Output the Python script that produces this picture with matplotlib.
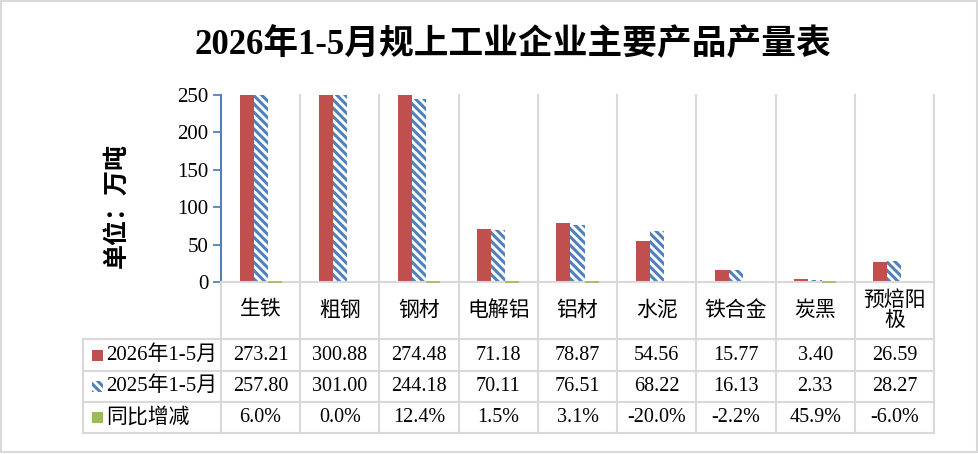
import matplotlib
matplotlib.use('Agg')
import matplotlib.pyplot as plt
import numpy as np
from matplotlib.patches import Rectangle
from matplotlib.transforms import blended_transform_factory

categories = ['生铁', '粗钢', '钢材', '电解铝', '铝材', '水泥', '铁合金', '炭黑', '预焙阳\n极']
output_2026 = [273.21, 300.88, 274.48, 71.18, 78.87, 54.56, 15.77, 3.40, 26.59]
output_2025 = [257.80, 301.00, 244.18, 70.11, 76.51, 68.22, 16.13, 2.33, 28.27]
yoy_change = [0.060, 0.000, 0.124, 0.015, 0.031, -0.200, -0.022, 0.459, -0.060]
series_names = ['2026年1-5月', '2025年1-5月', '同比增减']
y_ticks = [0, 50, 100, 150, 200, 250]

RED = '#C0504D'
BLUE = '#4F81BD'
GREEN = '#9BBB59'
GRID = '#D9D9D9'

plt.rcParams['font.family'] = ['Liberation Serif', 'Noto Sans CJK SC']
plt.rcParams['hatch.linewidth'] = 2.2

W, H = 979, 454


def fx(p):
    return p / W


def fy(p):
    return 1 - p / H


fig = plt.figure(figsize=(W / 100, H / 100), dpi=100)

# outer frame of the chart
fig.patches.append(Rectangle((fx(1), fy(452)), fx(976), (451) / H, transform=fig.transFigure,
                             fill=False, edgecolor=GRID, linewidth=1.5))

ax = fig.add_axes([fx(221), fy(282), (934 - 221) / W, (282 - 95) / H])
n = len(categories)
x = np.arange(n)
bw = 0.177

ax.bar(x - bw, output_2026, bw, color=RED, linewidth=0)
ax.bar(x, output_2025, bw, facecolor='white', edgecolor=BLUE, hatch='\\\\\\\\', linewidth=0)
# yoy values are fractions, so these bars are only a sliver on the 0-250 scale
green_bars = ax.bar(x + bw, yoy_change, bw, color=GREEN, edgecolor=GREEN,
                    linewidth=[1.2 if v > 0 else 0 for v in yoy_change], zorder=3)
for b in green_bars:
    b.set_clip_on(False)

ax.set_xlim(-0.5, n - 0.5)
ax.set_ylim(0, 250)
ax.set_yticks(y_ticks)
ax.set_xticks([])
ax.spines['top'].set_visible(False)
ax.spines['right'].set_visible(False)
ax.spines['left'].set_color(BLUE)
ax.spines['left'].set_linewidth(1.5)
ax.spines['bottom'].set_color(GRID)
ax.spines['bottom'].set_linewidth(1.5)
ax.tick_params(axis='y', direction='out', length=6, width=1.3, color=BLUE, labelsize=15, pad=3)

# data table under the plot
trans = blended_transform_factory(ax.transData, fig.transFigure)
left_x = -0.5 - (221 - 83) / ((934 - 221) / n)
row_lines = [339, 371, 402, 433]
for k in range(n + 1):
    xk = k - 0.5
    top = 282 if k == 0 else 95
    ax.plot([xk, xk], [fy(top), fy(433)], transform=trans, color=GRID, lw=1.5,
            clip_on=False, zorder=0)
ax.plot([left_x, left_x], [fy(339), fy(433)], transform=trans, color=GRID, lw=1.5, clip_on=False)
for r in row_lines:
    ax.plot([left_x, n - 0.5], [fy(r), fy(r)], transform=trans, color=GRID, lw=1.5, clip_on=False)

for i, cat in enumerate(categories):
    ax.text(i, fy(311), cat, transform=trans, ha='center', va='center', fontsize=15,
            linespacing=1.0)

row_y = [355, 386.5, 417.5]
row_text = [['%.2f' % v for v in output_2026],
            ['%.2f' % v for v in output_2025],
            ['%.1f%%' % (v * 100) for v in yoy_change]]
for r, texts in enumerate(row_text):
    for i, t in enumerate(texts):
        ax.text(i, fy(row_y[r]), t, transform=trans, ha='center', va='center', fontsize=14.5)

# legend keys in the table's first column
key_styles = [dict(facecolor=RED, linewidth=0),
              dict(facecolor='white', edgecolor=BLUE, hatch='\\\\\\\\', linewidth=0),
              dict(facecolor=GREEN, linewidth=0)]
for r, name in enumerate(series_names):
    fig.patches.append(Rectangle((fx(92), fy(row_y[r] + 5.5)), 11 / W, 11 / H,
                                 transform=fig.transFigure, **key_styles[r]))
    fig.text(fx(106), fy(row_y[r]), name, ha='left', va='center', fontsize=15)

fig.text(fx(117), fy(206), '单位：万吨', rotation=90, ha='center', va='center',
         fontsize=18, fontweight='bold', family=['Noto Sans CJK SC'])
fig.text(fx(513), fy(45), '2026年1-5月规上工业企业主要产品产量表', ha='center', va='center',
         fontsize=25, fontweight='bold')

fig.savefig('out.png', dpi=100)
